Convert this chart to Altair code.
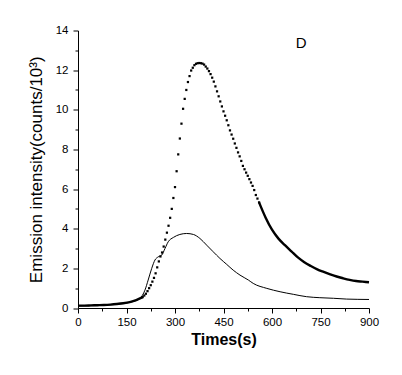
import altair as alt
import pandas as pd

# Series 1 (dotted, large peak) -- early part drawn as thick line
early_t = [0, 20, 40, 60, 80, 100, 120, 140, 160, 180, 200]
early_y = [0.12, 0.12, 0.13, 0.14, 0.15, 0.17, 0.20, 0.24, 0.30, 0.40, 0.55]

# Series 1 -- sampled points in the steep region (every 5 s from 200 to 560)
dot_t = list(range(200, 561, 5))
dot_y = [0.55, 0.63, 0.72, 0.85, 1.00, 1.15, 1.33, 1.52, 1.75, 2.05,
         2.35, 2.60, 2.80, 3.10, 3.45, 3.80, 4.15, 4.55, 5.00, 5.55,
         6.10, 6.90, 7.75, 8.55, 9.30, 10.05, 10.55, 11.00, 11.40, 11.70,
         11.98, 12.12, 12.25, 12.32, 12.35, 12.36, 12.35, 12.33, 12.28, 12.18,
         12.08, 11.95, 11.80, 11.62, 11.42, 11.18, 10.93, 10.68, 10.42, 10.17,
         9.92, 9.70, 9.47, 9.22, 8.96, 8.75, 8.54, 8.30, 8.08, 7.85,
         7.65, 7.42, 7.17, 7.00, 6.83, 6.67, 6.50, 6.33, 6.16, 5.95,
         5.70, 5.52, 5.33]

# Series 1 -- late decay drawn as thick line
late_t = [560, 580, 600, 620, 640, 660, 680, 700, 720, 740, 760, 780, 800,
          820, 840, 860, 880, 900]
late_y = [5.33, 4.57, 3.95, 3.50, 3.17, 2.86, 2.55, 2.31, 2.12, 1.95, 1.82,
          1.70, 1.59, 1.50, 1.42, 1.36, 1.33, 1.30]

# Series 2 (thin solid line)
thin_t = [0, 50, 100, 150, 175, 192, 207, 217, 228, 238, 248, 259, 269, 279,
          295, 315, 336, 357, 377, 398, 418, 439, 460, 480, 501, 527, 542,
          584, 625, 666, 707, 748, 790, 831, 900]
thin_y = [0.10, 0.12, 0.16, 0.25, 0.35, 0.49, 0.90, 1.41, 2.00, 2.42, 2.58,
          2.67, 3.00, 3.34, 3.56, 3.71, 3.76, 3.71, 3.51, 3.17, 2.84, 2.50,
          2.20, 1.91, 1.66, 1.41, 1.24, 0.99, 0.82, 0.69, 0.57, 0.52, 0.49,
          0.45, 0.43]

x_ticks = list(range(0, 901, 75))
y_ticks = list(range(0, 15))

FONT = "Liberation Sans"

thick_df = pd.DataFrame({
    "t": early_t + late_t,
    "y": early_y + late_y,
    "seg": ["a"] * len(early_t) + ["b"] * len(late_t),
})
dot_df = pd.DataFrame({"t": dot_t, "y": dot_y})
thin_df = pd.DataFrame({"t": thin_t, "y": thin_y})
label_df = pd.DataFrame({"t": [690], "y": [13.35], "txt": ["D"]})

xscale = alt.Scale(domain=[0, 900], nice=False, zero=False)
yscale = alt.Scale(domain=[0, 14], nice=False)

xaxis = alt.Axis(
    values=x_ticks,
    labelExpr="datum.value % 150 === 0 ? datum.label : ''",
    tickSize={"condition": {"test": "datum.value % 150 === 0", "value": 5}, "value": 3},
    title="Times(s)",
    titleFont=FONT, titleFontSize=16, titleFontWeight="bold", titleColor="black",
    titlePadding=4,
    labelFont=FONT, labelFontSize=11.5, labelColor="black", labelPadding=3,
    labelOverlap=False, labelFlush=False,
    domainColor="black", tickColor="black", grid=False, format="d",
)
yaxis = alt.Axis(
    values=y_ticks,
    labelExpr="datum.value % 2 === 0 ? datum.label : ''",
    tickSize={"condition": {"test": "datum.value % 2 === 0", "value": 5}, "value": 3},
    title="Emission intensity(counts/10³)",
    titleFont=FONT, titleFontSize=17, titleFontWeight="normal", titleColor="black",
    titlePadding=10,
    labelFont=FONT, labelFontSize=11.5, labelColor="black", labelPadding=5,
    labelOverlap=False, labelFlush=False,
    domainColor="black", tickColor="black", grid=False, format="d",
)


def enc(base):
    return base.encode(
        x=alt.X("t:Q", scale=xscale, axis=xaxis),
        y=alt.Y("y:Q", scale=yscale, axis=yaxis),
    )


thin = enc(alt.Chart(thin_df).mark_line(color="black", strokeWidth=1, interpolate="monotone"))
thick = enc(alt.Chart(thick_df).mark_line(color="black", strokeWidth=2.4, interpolate="monotone")).encode(
    detail="seg:N"
)
dots = enc(alt.Chart(dot_df).mark_square(color="black", size=5, filled=True, opacity=1))
label = enc(alt.Chart(label_df).mark_text(font=FONT, fontSize=15, color="black",
                                          align="center", baseline="middle")).encode(text="txt:N")

chart = alt.layer(thin, thick, dots, label).properties(
    width=291, height=277.5,
    autosize=alt.AutoSizeParams(type="none"),
    padding={"left": 70, "top": 22.5, "right": 25, "bottom": 59},
    background="white",
).configure_view(stroke=None)

chart.save("out.html", embed_options={"renderer": "svg", "actions": False})
